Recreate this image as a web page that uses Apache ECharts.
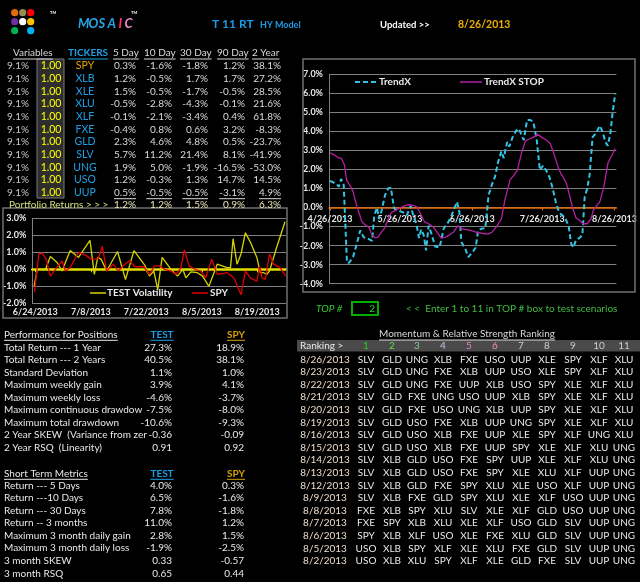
<!DOCTYPE html>
<html>
<head>
<meta charset="utf-8">
<script src="https://cdn.jsdelivr.net/npm/echarts@6/dist/echarts.min.js"></script>
<style>
html, body { margin: 0; padding: 0; background: #000; }
#main { width: 640px; height: 582px; }
</style>
</head>
<body>
<div id="main"></div>
<script>
var FF = 'Lato, "Open Sans", sans-serif';

// ticker table
var tickers = ['SPY', 'XLB', 'XLE', 'XLU', 'XLF', 'FXE', 'GLD', 'SLV', 'UNG', 'USO', 'UUP'];
var weights = [9.1, 9.1, 9.1, 9.1, 9.1, 9.1, 9.1, 9.1, 9.1, 9.1, 9.1];
var variables = [1, 1, 1, 1, 1, 1, 1, 1, 1, 1, 1];
var periodNames = ['5 Day', '10 Day', '30 Day', '90 Day', '2 Year'];
var ret5 = [0.3, 1.2, 1.5, -0.5, -0.1, -0.4, 2.3, 5.7, 1.9, 1.2, 0.5];
var ret10 = [-1.6, -0.5, -0.5, -2.8, -2.1, 0.8, 4.6, 11.2, 5.0, -0.3, -0.5];
var ret30 = [-1.8, 1.7, -1.7, -4.3, -3.4, 0.6, 4.8, 21.4, -1.9, 1.3, -0.5];
var ret90 = [1.2, 1.7, -0.5, -0.1, 0.4, 3.2, 0.5, 8.1, -16.5, 14.7, -3.1];
var ret2y = [38.1, 27.2, 28.5, 21.6, 61.8, -8.3, -23.7, -41.9, -53.0, 14.5, 4.9];
var portfolio = [1.2, 1.2, 1.5, 0.9, 6.3];

// TrendX chart (days after 4/26/2013, percent)
var trendDays = [0, 2.7, 3.8, 4.8, 5.9, 7.3, 8.2, 9.9, 11.3, 13.0, 14.4, 16.5, 18.1, 19.0, 20.2, 21.0, 22.3, 23.6, 25.0, 26.1,
  27.5, 28.8, 31.3, 33.0, 34.6, 35.7, 37.1, 38.2, 39.1, 40.2, 41.2, 42.3, 43.7, 45.1, 47.0, 48.8, 50.8, 52.2, 53.3, 54.5,
  55.5, 56.3, 58.0, 59.3, 61.1, 62.5, 63.5, 65.2, 66.6, 68.0, 69.4, 70.7, 72.1, 73.5, 74.5, 76.0, 76.9, 78.3, 79.9, 81.0,
  82.1, 83.1, 84.5, 85.9, 87.2, 88.6, 90.0, 91.3, 92.7, 94.1, 95.5, 96.8, 98.2, 99.6, 101.0, 102.3, 103.4, 104.4, 105.5,
  106.9, 108.2, 109.2, 110.3, 111.3, 112.6, 114.0, 115.7, 116.8, 118.1, 119.1, 120.2, 121.2, 122.3];
var trendX = [1.4, 1.25, 1.1, 1.5, 1.2, -2.9, -2.9, -2.6, -2.0, -1.2, -1.55, -1.65, -1.75, -0.4, 0, -0.6, -0.1, 0.65, 1.0, 1.05,
  -0.05, -0.15, -0.25, -0.4, 0.1, -0.4, -0.9, -1.6, -1.15, -1.45, -2.25, -0.95, -1.45, -2.05, -2.1, -1.1, -0.75, -0.4, -0.05, 0.3,
  -0.25, -1.8, -2.15, -2.6, -2.35, -2.1, -1.2, -1.1, -1.1, 0.65, 1.2, 1.6, 2.4, 2.95, 2.6, 3.45, 3.2, 3.7, 4.05, 4.15,
  3.8, 3.55, 4.6, 4.6, 4.5, 3.6, 1.95, 2.2, 1.95, 1.6, 1.0, 0.3, -0.25, -0.4, -0.6, -0.95, -1.9, -2.1, -1.7,
  -1.6, -1.45, 0.55, 1.0, 1.7, 3.7, 3.9, 4.3, 4.0, 3.45, 3.25, 3.9, 5.0, 6.0];
var stopDays = [0, 2.1, 3.8, 4.8, 6.2, 7.1, 8.9, 10.0, 11.0, 12.4, 13.7, 15.1, 16.8, 18.1, 19.5, 20.6, 22.0, 23.6, 25.0, 26.4,
  28.2, 30.2, 32.3, 33.7, 35.7, 37.4, 38.7, 40.5, 42.3, 44.2, 46.0, 47.7, 49.5, 51.1, 52.9, 54.9, 56.0, 57.7, 60.4, 62.9,
  65.2, 67.6, 69.4, 71.4, 73.5, 75.1, 77.2, 78.9, 80.3, 82.1, 83.8, 85.4, 87.2, 89.0, 90.7, 92.7, 94.5, 96.2, 97.5, 98.9,
  100.0, 101.4, 102.7, 104.1, 105.5, 106.9, 108.5, 110.2, 111.9, 112.9, 114.3, 115.7, 117.4, 119.2, 120.9, 122.3];
var trendStop = [2.87, 2.75, 2.6, 2.6, 2.25, 1.45, 1.1, 0.8, 0.3, -0.25, -0.75, -0.9, -1.05, -1.45, -1.6, -1.55, -1.3, -1.05, -0.6, -0.25,
  -0.15, 0, 0.1, 0.15, 0.12, 0.02, -0.3, -0.75, -0.85, -1.0, -1.3, -1.6, -1.55, -1.45, -1.3, -0.95, -1.1, -1.15, -1.2, -1.3,
  -1.35, -1.4, -1.3, -1.0, -0.6, 0.45, 1.45, 1.7, 1.95, 2.85, 3.5, 3.6, 3.7, 3.85, 3.7, 3.55, 3.35, 2.75, 2.25, 1.8,
  1.6, 1.25, 0.65, -0.05, -0.55, -0.65, -0.85, -0.85, -0.6, -0.15, 0.1, 0.3, 1.1, 2.35, 2.75, 3.1];
var trendTicks = [0, 30, 61, 91, 122];

// volatility chart (days after 6/24/2013, percent)
var testDays = [-0.3, 0.5, 2.6, 3.8, 5.5, 6.75, 8.8, 10.9, 13.8, 14.9, 15.75, 16.6, 18.0, 20.75, 22.75, 24.9, 27.6, 28.8, 29.9, 30.9,
  32.0, 34.25, 35.9, 37.2, 38.0, 39.25, 40.9, 42.2, 43.8, 45.9, 48.4, 49.25, 49.9, 50.9, 51.9, 53.0, 54.25, 55.9, 56.75, 57.6,
  58.4, 59.1, 60.9, 63.0];
var testVol = [-1.0, 0, 0, 0.75, 0.4, -0.1, 1.1, 0.7, 1.7, -0.3, 0.7, 0.6, -0.1, 1.05, -0.6, 1.1, 0.25, -0.4, -0.1, -1.2,
  0.7, 0, -0.4, 0, -0.5, -0.15, -0.2, -0.4, -1.0, 0.3, 0.1, 0.1, 1.8, 0.3, 0.9, 2.15, 1.6, 0.7, -0.2, -0.2,
  -0.3, -0.1, 1.3, 2.8];
var spyDays = [-0.2, 0.9, 1.75, 2.75, 3.8, 5.1, 6.75, 7.6, 8.8, 10.9, 12.6, 14.1, 15.1, 15.9, 16.9, 18.0, 19.7, 20.9, 22.6, 23.8,
  25.1, 27.4, 28.8, 30.1, 31.3, 32.6, 34.25, 35.5, 36.75, 37.6, 38.8, 40.25, 41.75, 43.0, 44.5, 45.9, 48.4, 50.1, 51.9, 53.0,
  54.25, 55.9, 56.6, 57.2, 58.0, 59.1, 60.1, 61.75, 63.2];
var spyRet = [-1.35, 0.9, 0.95, 0.6, -0.4, 0, 0.5, -0.1, 0.1, 1.0, 0.85, 0.6, 0.6, 0.65, 1.35, -0.1, 0.3, -0.1, 0.3, 0.5,
  0.15, 0.15, -0.3, 0.2, 0.2, 0, -0.1, -0.3, 0.1, 1.15, 0.2, 0, -0.1, -0.5, 0.6, -0.3, -0.2, -0.5, -1.5, -0.1,
  -0.5, -0.7, 0.2, -0.5, -0.6, 0.9, 0.3, 0.1, -0.4];
var volTicks = [0, 14, 28, 42, 56];

// performance tables
var perfLabels = ['Total Return --- 1 Year', 'Total Return --- 2 Years', 'Standard Deviation', 'Maximum weekly gain',
  'Maximum weekly loss', 'Maximum continuous drawdow', 'Maximum total drawdown', '2 Year SKEW  (Variance from zer',
  '2 Year RSQ  (Linearity)'];
var perfTest = ['27.3%', '40.5%', '1.1%', '3.9%', '-4.6%', '-7.5%', '-10.6%', '-0.36', '0.91'];
var perfSpy = ['18.9%', '38.1%', '1.0%', '4.1%', '-3.7%', '-8.0%', '-9.3%', '-0.09', '0.92'];
var shortLabels = ['Return --- 5 Days', 'Return ---10 Days', 'Return --- 30 Days', 'Return -- 3 months',
  'Maximum 3 month daily gain', 'Maximum 3 month daily loss', '3 month SKEW', '3 month RSQ'];
var shortTest = ['4.0%', '6.5%', '7.8%', '11.0%', '2.8%', '-1.9%', '0.33', '0.65'];
var shortSpy = ['0.3%', '-1.6%', '-1.8%', '1.2%', '1.5%', '-2.5%', '-0.57', '0.44'];

// ranking table
var rankCols = ['1', '2', '3', '4', '5', '6', '7', '8', '9', '10', '11'];
var rankDates = ['8/26/2013', '8/23/2013', '8/22/2013', '8/21/2013', '8/20/2013', '8/19/2013', '8/16/2013', '8/15/2013',
  '8/14/2013', '8/13/2013', '8/12/2013', '8/9/2013', '8/8/2013', '8/7/2013', '8/6/2013', '8/5/2013', '8/2/2013'];
var rankings = [
  'SLV GLD UNG XLB FXE USO UUP XLE SPY XLF XLU',
  'SLV GLD UNG FXE XLB UUP USO XLE SPY XLF XLU',
  'SLV GLD UNG FXE UUP XLB USO SPY XLE XLF XLU',
  'SLV GLD FXE UNG USO UUP XLB SPY XLE XLF XLU',
  'SLV GLD FXE USO UNG XLB UUP SPY XLE XLF XLU',
  'SLV GLD USO FXE XLB UUP UNG SPY XLE XLF XLU',
  'SLV GLD USO XLB FXE UUP XLE SPY XLF UNG XLU',
  'SLV GLD USO XLB FXE UUP SPY XLE XLF XLU UNG',
  'SLV XLB GLD USO FXE SPY UUP XLE XLF XLU UNG',
  'SLV XLB GLD USO FXE SPY XLE XLU XLF UUP UNG',
  'SLV XLB GLD FXE SPY XLU XLE USO XLF UUP UNG',
  'SLV XLB FXE GLD SPY XLU XLE XLF USO UUP UNG',
  'FXE XLB SPY XLU SLV XLE XLF GLD USO UUP UNG',
  'FXE SPY XLB XLU XLE XLF USO GLD SLV UUP UNG',
  'SPY XLB XLF USO XLE FXE XLU GLD SLV UUP UNG',
  'USO XLB SPY XLF XLE XLU FXE GLD SLV UUP UNG',
  'USO XLB XLU SPY XLF XLE GLD FXE SLV UUP UNG'
];

// text helpers
var g = [];
var mctx = document.createElement('canvas').getContext('2d');
function txt(x, y, s, fill, o) {
  o = o || {};
  var font = (o.italic ? 'italic ' : '') + (o.bold ? 'bold ' : '') + (o.size || 10) + 'px ' + FF;
  g.push({ type: 'text', x: x, y: y, z: 10, silent: true,
    style: { text: s, fill: fill, font: font, align: o.align || 'left', verticalAlign: 'middle' } });
  if (o.ul) {
    mctx.font = font;
    var w = mctx.measureText(s).width;
    var x0 = o.align === 'center' ? x - w / 2 : (o.align === 'right' ? x - w : x);
    g.push({ type: 'line', z: 10, silent: true, shape: { x1: x0, y1: y + 6, x2: x0 + w, y2: y + 6 },
      style: { stroke: fill, lineWidth: 1 } });
  }
}
function seg(x1, x2, y, color, w, dash) {
  g.push({ type: 'line', z: 10, silent: true, shape: { x1: x1, y1: y, x2: x2, y2: y },
    style: { stroke: color, lineWidth: w, lineDash: dash || null } });
}
function pct(v) { return v.toFixed(1) + '%'; }

// header
var dotColors = [['#e46c0a', '#948a54', '#ff0000'], ['#7030a0', '#ffffff', '#ffc000'], ['#00b050', null, '#00b0f0']];
dotColors.forEach(function (row, r) {
  row.forEach(function (c, k) {
    if (c) g.push({ type: 'circle', z: 10, shape: { cx: 14.7 + k * 8, cy: 12.7 + r * 9, r: 3.6 }, style: { fill: c } });
  });
});
txt(50, 13, 'TM', '#ffffff', { size: 4, bold: 1 });
var logoLetters = ['M', 'O', 'S', 'A', 'I', 'C'];
var logoX = [78, 88.5, 98.5, 107.5, 118.5, 124.5];
var logoC = ['#27a6e6', '#27a6e6', '#27a6e6', '#27a6e6', '#ff3366', '#e58fd0'];
logoLetters.forEach(function (l, k) { txt(logoX[k], 24, l, logoC[k], { size: 13, bold: 1, italic: 1 }); });
txt(131, 13, 'TM', '#ffffff', { size: 4, bold: 1 });
txt(212, 24, 'T 11 RT', '#1a9be6', { size: 12, bold: 1 });
txt(260, 25, 'HY Model', '#1a9be6', { size: 9, bold: 1 });
txt(380, 25, 'Updated >>', '#ffffff', { size: 9.5, bold: 1 });
txt(458, 25, '8/26/2013', '#f0b000', { size: 10.5, bold: 1 });

// ticker table
var colLeft = [113, 144, 180, 217, 252];
var colRight = [136, 172, 208, 245, 281];
txt(13, 53, 'Variables', '#d9d9d9', { ul: 1 });
txt(68, 53, 'TICKERS', '#1ea0e6', { ul: 1, bold: 1 });
periodNames.forEach(function (p, k) { txt(colLeft[k], 53, p, '#d9d9d9', { ul: 1 }); });
g.push({ type: 'rect', z: 5, shape: { x: 37, y: 59, width: 27, height: 139 }, style: { fill: '#2e2e2e', stroke: '#7a7a7a', lineWidth: 1 } });
var rets = [ret5, ret10, ret30, ret90, ret2y];
tickers.forEach(function (t, i) {
  var y = 66 + i * 12.67;
  txt(29, y, pct(weights[i]), '#c8c8c8', { align: 'right' });
  txt(51, y, variables[i].toFixed(2), '#ffff00', { align: 'center', size: 10.5 });
  txt(85, y, t, t === 'SPY' ? '#e6a000' : '#1ea0e6', { align: 'center', size: 10.5 });
  rets.forEach(function (arr, k) {
    txt(colRight[k], y, pct(arr[i]), '#d9d9d9', { align: 'right', ul: i === tickers.length - 1 });
  });
});
txt(9, 204.5, 'Portfolio Returns > > >', '#cfe07e');
portfolio.forEach(function (v, k) { txt(colRight[k], 204.5, pct(v), '#e8e8b8', { align: 'right' }); });

// chart frames and hand-drawn legends
g.push({ type: 'rect', z: 1, shape: { x: 303, y: 59, width: 332, height: 233 }, style: { fill: 'none', stroke: '#707070', lineWidth: 1.5 } });
g.push({ type: 'rect', z: 1, shape: { x: 3, y: 208, width: 284, height: 110 }, style: { fill: 'none', stroke: '#707070', lineWidth: 1.5 } });
g.push({ type: 'rect', z: 20, shape: { x: 636.5, y: 210, width: 4, height: 16 }, style: { fill: '#000' } });
seg(355, 377, 82, '#33c3e3', 2, [5, 3]);
txt(379, 82, 'TrendX', '#e8e8e8', { bold: 1 });
seg(460, 482, 82, '#b41fa3', 1.5);
txt(484, 82, 'TrendX STOP', '#e8e8e8', { bold: 1 });
seg(90, 106, 293, '#d4d400', 1.5);
txt(107, 293, 'TEST Volatility', '#e8e8e8', { bold: 1 });
seg(192, 208, 293, '#e00000', 1.5);
txt(210, 293, 'SPY', '#e8e8e8', { bold: 1 });

// performance tables
txt(4, 334.3, 'Performance for Positions', '#e8e8e8', { ul: 1 });
txt(162, 334.3, 'TEST', '#1ea0e6', { ul: 1, align: 'center', bold: 1 });
txt(236, 334.3, 'SPY', '#d8a000', { ul: 1, align: 'center', bold: 1 });
perfLabels.forEach(function (l, i) {
  var y = 347.3 + i * 12.5;
  txt(4, y, l, '#e8e8e8');
  txt(172, y, perfTest[i], '#e8e8e8', { align: 'right' });
  txt(244, y, perfSpy[i], '#e8e8e8', { align: 'right' });
});
txt(4, 473.3, 'Short Term Metrics', '#e8e8e8', { ul: 1 });
txt(162, 473.3, 'TEST', '#1ea0e6', { ul: 1, align: 'center', bold: 1 });
txt(236, 473.3, 'SPY', '#d8a000', { ul: 1, align: 'center', bold: 1 });
shortLabels.forEach(function (l, i) {
  var y = 485.3 + i * 12.57;
  txt(4, y, l, '#e8e8e8');
  txt(172, y, shortTest[i], '#e8e8e8', { align: 'right' });
  txt(244, y, shortSpy[i], '#e8e8e8', { align: 'right' });
});

// TOP # and ranking
txt(316, 309, 'TOP #', '#33cc33', { italic: 1 });
g.push({ type: 'rect', z: 10, shape: { x: 352, y: 302, width: 26, height: 13 }, style: { fill: 'none', stroke: '#00b000', lineWidth: 2 } });
txt(375, 309, '2', '#33cc33', { align: 'right' });
txt(406, 309, '< <  Enter 1 to 11 in TOP # box to test scenarios', '#44bb44');
txt(467, 334, 'Momentum & Relative Strength Ranking', '#d9d9d9', { ul: 1, align: 'center' });
g.push({ type: 'rect', z: 5, shape: { x: 297, y: 340, width: 343, height: 11.5 }, style: { fill: '#4a4a4a' } });
txt(300, 346, 'Ranking >', '#e8e8e8');
var numColors = ['#22cc22', '#66dd44', '#88cc88', '#ccbbee', '#dd88cc', '#ff88bb', '#cccccc', '#cccccc', '#cccccc', '#cccccc', '#cccccc'];
var rankX = [366, 392, 417, 443, 469, 495, 521, 547, 573, 599, 624];
rankCols.forEach(function (c, k) { txt(rankX[k], 346, c, numColors[k], { align: 'center' }); });
rankDates.forEach(function (d, i) {
  var y = 359.3 + i * 12.6;
  txt(325, y, d, '#eadccc', { align: 'center' });
  rankings[i].split(' ').forEach(function (t, k) { txt(rankX[k], y, t, '#e8e8e8', { align: 'center' }); });
});

function dateFrom(y, m, d) {
  return function (v) {
    var dt = new Date(y, m, d + Math.round(v));
    return (dt.getMonth() + 1) + '/' + dt.getDate() + '/' + dt.getFullYear();
  };
}
function pairs(xs, ys) { return xs.map(function (x, i) { return [x, ys[i]]; }); }

var axisFont = { color: '#e8e8e8', fontSize: 9, fontWeight: 'bold', fontFamily: FF };

var myChart = echarts.init(document.getElementById('main'));
var option = {
  backgroundColor: '#000',
  animation: false,
  grid: [
    { left: 329, top: 74.3, width: 299, height: 209.4 },
    { left: 30, top: 218.3, width: 256, height: 85 }
  ],
  xAxis: [
    {
      // date labels sit just under the zero line
      type: 'value', gridIndex: 0, min: -0.4, max: 122.8, position: 'bottom', offset: -76.4,
      axisLine: { show: false, onZero: false },
      axisTick: { show: false },
      axisLabel: Object.assign({ customValues: trendTicks, formatter: dateFrom(2013, 3, 26), margin: 7 }, axisFont),
      splitLine: { show: false }
    },
    {
      type: 'value', gridIndex: 0, min: -0.4, max: 122.8, position: 'top',
      axisLine: { onZero: true, lineStyle: { color: '#e46c0a', width: 1.5 } },
      axisTick: { customValues: trendTicks, inside: true, length: 3, lineStyle: { color: '#e46c0a' } },
      axisLabel: { show: false },
      splitLine: { show: false }
    },
    {
      type: 'value', gridIndex: 1, min: -0.75, max: 63.25, position: 'bottom',
      axisLine: { show: false, onZero: false },
      axisTick: { show: false },
      axisLabel: Object.assign({ customValues: volTicks, formatter: dateFrom(2013, 5, 24), margin: 4 }, axisFont),
      splitLine: { show: false }
    },
    {
      type: 'value', gridIndex: 1, min: -0.75, max: 63.25, position: 'top',
      axisLine: { onZero: true, lineStyle: { color: '#e0e000', width: 2.5 } },
      axisTick: { customValues: volTicks, inside: true, length: 3, lineStyle: { color: '#e0e000' } },
      axisLabel: { show: false },
      splitLine: { show: false }
    }
  ],
  yAxis: [
    {
      type: 'value', gridIndex: 0, min: -4, max: 7, interval: 1,
      axisLine: { show: true, onZero: false, lineStyle: { color: '#808080' } },
      axisTick: { show: false },
      axisLabel: Object.assign({ formatter: function (v) { return v.toFixed(1) + '%'; }, margin: 6 }, axisFont),
      splitLine: { lineStyle: { color: '#808080', width: 1 } }
    },
    {
      type: 'value', gridIndex: 1, min: -2, max: 3, interval: 1,
      axisLine: { show: true, onZero: false, lineStyle: { color: '#808080' } },
      axisTick: { show: false },
      axisLabel: Object.assign({ formatter: function (v) { return v.toFixed(1) + '%'; }, margin: 6 }, axisFont),
      splitLine: { lineStyle: { color: '#808080', width: 1 } }
    }
  ],
  series: [
    {
      name: 'TrendX', type: 'line', xAxisIndex: 0, yAxisIndex: 0, data: pairs(trendDays, trendX),
      symbol: 'none', lineStyle: { color: '#33c3e3', width: 2, type: [5, 3] }
    },
    {
      name: 'TrendX STOP', type: 'line', xAxisIndex: 0, yAxisIndex: 0, data: pairs(stopDays, trendStop),
      symbol: 'none', lineStyle: { color: '#b41fa3', width: 1.3 }
    },
    {
      name: 'TEST Volatility', type: 'line', xAxisIndex: 2, yAxisIndex: 1, data: pairs(testDays, testVol),
      symbol: 'none', lineStyle: { color: '#d4d400', width: 1.3 }
    },
    {
      name: 'SPY', type: 'line', xAxisIndex: 2, yAxisIndex: 1, data: pairs(spyDays, spyRet),
      symbol: 'none', lineStyle: { color: '#e00000', width: 1.3 }
    }
  ],
  graphic: g
};
myChart.setOption(option);
</script>
</body>
</html>
